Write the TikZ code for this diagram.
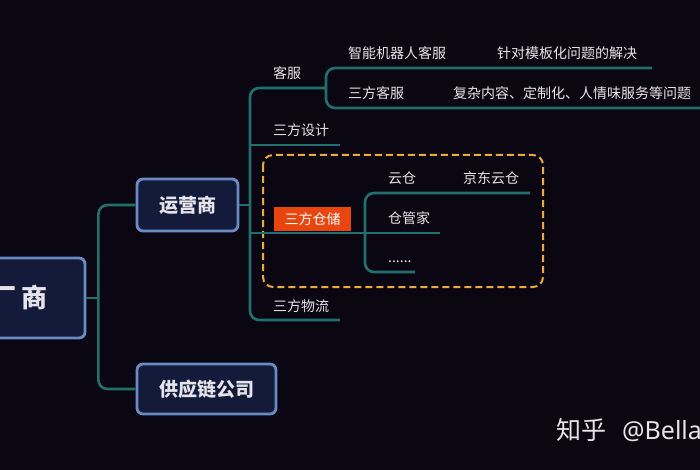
\documentclass[tikz,border=0pt]{standalone}
\usepackage{fontspec}
\setmainfont{Noto Sans CJK SC}
\newfontfamily\latinsans{Noto Sans}
\usetikzlibrary{calc}
\definecolor{bg}{HTML}{0B0712}
\definecolor{linecol}{HTML}{22706E}
\definecolor{nodefill}{HTML}{131A3A}
\definecolor{nodeedge}{HTML}{6A8BC3}
\definecolor{txt}{HTML}{E4E4EA}
\definecolor{redbox}{HTML}{E8450F}
\definecolor{dashc}{HTML}{EFA83A}
\begin{document}
\begin{tikzpicture}[x=1pt,y=-1pt,
  conn/.style={draw=linecol,line width=2.6pt,rounded corners=9pt},
  main/.style={draw=nodeedge,fill=nodefill,line width=2.8pt,rounded corners=6pt,text=txt,
    font=\bfseries\fontsize{19}{19}\selectfont,inner sep=0pt},
  lbl/.style={anchor=west,text=txt,font=\fontsize{14}{14}\selectfont,inner sep=0pt},
  redlbl/.style={fill=redbox,text=white,font=\fontsize{14}{14}\selectfont,inner sep=0pt,
    minimum width=77pt,minimum height=24pt},
  groupbox/.style={draw=dashc,line width=2pt,dash pattern=on 7pt off 4pt,rounded corners=10pt}]
\clip (0,0) rectangle (700,470);
\fill[bg] (0,0) rectangle (700,470);

% main nodes
\node[main,minimum width=126pt,minimum height=80pt,font=\bfseries\fontsize{26}{26}\selectfont] (root) at (22,298) {};
\node[text=txt,font=\bfseries\fontsize{26}{26}\selectfont,inner sep=0pt,anchor=east] (roottext) at (48,298) {厂\hspace{5pt}商};
\node[main,minimum width=101pt,minimum height=52pt] (yys) at (187.5,205) {运营商};
\node[main,minimum width=139pt,minimum height=50pt] (gys) at (206.5,389) {供应链公司};

% level-1 connectors
\coordinate (j1) at ($(root.east)+(12,0)$);
\draw[conn] (yys.west) -| (j1) |- (gys.west);
\draw[conn] (root.east) -- (j1);

% group box
\draw[groupbox] (263,155) rectangle (543,287);

% level-2 labels
\node[lbl] (kf) at (273,73) {客服};
\node[lbl] (sjsj) at (273,130) {三方设计};
\node[redlbl] (sfcc) at (312.5,219) {三方仓储};
\node[lbl] (sfwl) at (273,306) {三方物流};

% level-2 connectors
\coordinate (trunk) at (250,205);
\coordinate (kfR) at (326,88);
\coordinate (wlR) at (340,320);
\coordinate (sjL) at (250,145);
\coordinate (sjR) at (340,145);
\coordinate (ccL) at (250,233);
\coordinate (ccR) at (365,233);
\draw[conn] (yys.east) -- (trunk);
\draw[conn] (kfR) -| (trunk) |- (wlR);
\draw[conn] (sjL) -- (sjR);

% 客服 children
\node[lbl] (znjqr) at (348,53) {智能机器人客服};
\node[lbl] (zdmb) at (497,53) {针对模板化问题的解决};
\node[lbl] (sfkf) at (348,93) {三方客服};
\node[lbl] (fznr) at (453,93) {复杂内容、定制化、人情味服务等问题};
\coordinate (kfT) at (652,68);
\coordinate (kfB) at (720,108);
\draw[conn] (kfT) -| (kfR) |- (kfB);

% 三方仓储 children
\node[lbl] (yc) at (388,178) {云仓};
\node[lbl] (jdyc) at (463,178) {京东云仓};
\node[lbl] (cgj) at (388,218) {仓管家};
\node[lbl] (dots) at (388,262) {......};
\coordinate (ccT) at (530,193);
\coordinate (ccM) at (440,233);
\coordinate (ccB) at (415,272);
\draw[conn] (ccL) -- (ccM);
\draw[conn] (ccT) -| (ccR) |- (ccB);

% watermark
\node[anchor=west,text=txt,font=\fontsize{25}{25}\selectfont,inner sep=0pt] (wm) at (556,430) {知乎};
\node[anchor=base west,text=txt,font=\latinsans\fontsize{25}{25}\selectfont,inner sep=0pt] (wm2) at ($(wm.base west)+(66,0)$) {@Bella};
\end{tikzpicture}
\end{document}
